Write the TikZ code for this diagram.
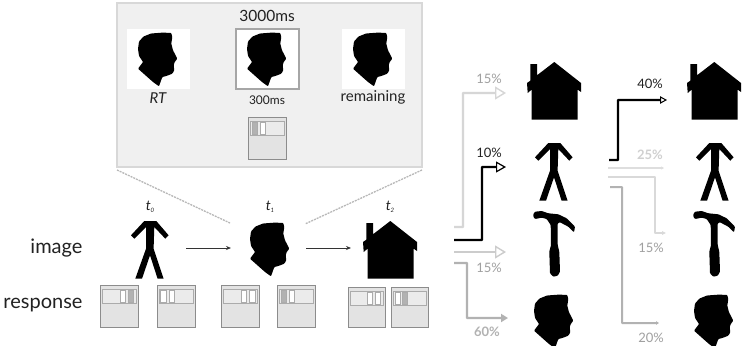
\documentclass[tikz,border=0pt]{standalone}
\usepackage{fontspec}
\setmainfont{Lato}
\usetikzlibrary{arrows.meta}
\definecolor{panelfill}{HTML}{F0F0F0}
\definecolor{panelline}{HTML}{D8D8D8}
\definecolor{txt}{HTML}{222222}
\definecolor{pctlight}{HTML}{A0A0A0}
\definecolor{pctpale}{HTML}{D0D0D0}
\tikzset{
  every node/.style={text=txt},
  iconbox/.style={inner sep=0pt,outer sep=0pt,minimum height=#1},
  respframe/.style={draw=black!45,fill=black!11,line width=0.9pt},
  respbar/.style={draw=black!33,fill=black!8,line width=0.8pt},
  tile/.style={draw=black!33,line width=0.7pt},
  pct/.style={font=\fontsize{13}{15}\selectfont},
  flow/.style={-{Stealth[length=5pt,width=4pt]},line width=0.8pt,draw=black!80},
  link/.style={line width=#1,rounded corners=0.5pt},
  link/.default=2.2pt,
  guide/.style={draw=black!28,line width=1.3pt,dash pattern=on 2pt off 1pt},
  pics/stickman/.style={code={
    \fill[black] (13.3,0)--(25.3,0)--(37.6,14.3)--(34.3,17.7)--(23.3,6)--(22.6,27.7)--(32.6,57.7)--(26.6,57.7)--(19,34.3)--(11,57.7)--(4.3,57.7)--(15,27.7)--(15,6)--(3.3,17.7)--(0,14.3)--cycle;
  }},
  pics/house/.style={code={
    \fill[black] (27.3,0)--(54,21)--(54,30)--(50.6,27.6)--(50.6,57.7)--(4.6,57.7)--(4.6,27.6)--(0.7,31)--(0,21)--(3.3,18.7)--(3.3,2)--(10,2)--(10,13.3)--cycle;
  }},
  pics/head/.style={code={
    \fill[black,rounded corners=0.8pt] (33.3,1)--(34.3,5)--(33.3,11.7)--(35,18.3)--(39.3,26.7)--(36.7,30)--(35.7,33.3)--(36.3,38.3)--(34.3,41.7)--(28.3,44)--(24.3,45)--(21,54.3)--(15,50)--(0,36.7)--(5,30)--(1,24)--(0,17)--(1,9.5)--(5.5,4.5)--(13,1.5)--(25,0.6)--cycle;
  }},
  pics/hammer/.style={code={
    \fill[black,rounded corners=0.8pt] (-0.2,3.3)--(1.5,0.7)--(8.2,0)--(14.8,2.3)--(24.8,3.3)--(33.2,7.3)--(41.5,15.7)--(40.5,21.3)--(34.8,15.7)--(26.5,11.3)--(24.2,12.3)--(24.2,34)--(25.8,40.7)--(26.5,60.7)--(24.2,64.7)--(19.8,65.7)--(16.5,62.3)--(15.8,40.7)--(17.5,34)--(17.2,14)--(13.2,8)--(8.2,6.7)--(1.5,8)--(-0.2,5.7)--cycle;
  }}
}
% A named place holder with the silhouette drawn over it
\newcommand{\icon}[6]{%
  \node[iconbox=#6,minimum width=#5] (#1) at ({#3+#5/2},{#4+#6/2}) {};
  \pic at (#3,#4) {#2};
}
% A response panel: frame, top bar and two small tiles
\newcommand{\respbox}[9]{%
  \node[inner sep=0pt,outer sep=0pt,minimum width=#4,minimum height=#5] (#1) at ({#2+#4/2},{#3+#5/2}) {};
  \draw[respframe] (#2,#3) rectangle ++(#4,#5);
  \draw[respbar] ({#2+2},{#3+4}) rectangle ({#2+#4-2},{#3+18});
  \fill[#7,tile] ({#2+#6},{#3+5}) rectangle ++(5.5,12);
  \fill[#9,tile] ({#2+#8},{#3+5}) rectangle ++(5.5,12);
}
\begin{document}
\begin{tikzpicture}[x=1pt,y=-1pt]
\useasboundingbox (0,0) rectangle (743,345);
\clip (0,0) rectangle (743,345);
\fill[white] (0,0) rectangle (743,345);

% Enlarged trial panel
\draw[fill=panelfill,draw=panelline,line width=2.4pt] (117,3) rectangle (422,167);
\node[font=\fontsize{15.5}{18}\selectfont] (dur) at (267,16) {3000ms};
\fill[white] (127,29) rectangle (190,89);
\draw[fill=white,draw=black!35,line width=1.6pt] (236,29) rectangle (299,89);
\fill[white] (342,29) rectangle (405,89);
\icon{headP}{head}{138}{32}{40}{54}
\icon{headQ}{head}{247}{32}{40}{54}
\icon{headR}{head}{353}{32}{40}{54}
\node[font=\fontsize{15}{17}\itshape\selectfont] (rt) at (158,98.5) {RT};
\node[font=\fontsize{12}{14}\selectfont] (on) at (267,100) {300ms};
\node[font=\fontsize{15}{18}\selectfont] (rem) at (373,97.5) {remaining};
\respbox{respP}{248}{117}{38}{42}{4}{black!30}{12}{white}

% Zoom guides from the panel to the middle image
\coordinate (gl1) at (117,170);
\coordinate (gl2) at (230,223);
\coordinate (gr1) at (422,170);
\coordinate (gr2) at (305,224);
\draw[guide] (gl1) -- (gl2);
\draw[guide] (gr1) -- (gr2);

% Trial timeline
\node[anchor=base east,font=\fontsize{20}{23}\selectfont] (lblI) at (86,253) {image};
\node[anchor=base east,font=\fontsize{20}{23}\selectfont] (lblR) at (86,308) {response};
\node[font=\fontsize{14}{16}\itshape\selectfont] (t0) at (150,207) {t\raisebox{-2pt}{\fontsize{6}{7}\selectfont 0}};
\node[font=\fontsize{14}{16}\itshape\selectfont] (t1) at (270,207) {t\raisebox{-2pt}{\fontsize{6}{7}\selectfont 1}};
\node[font=\fontsize{14}{16}\itshape\selectfont] (t2) at (390,207) {t\raisebox{-2pt}{\fontsize{6}{7}\selectfont 2}};
\icon{figT}{stickman}{131}{221}{37.6}{57.7}
\icon{headT}{head}{250}{222}{39.3}{54}
\icon{houseT}{house}{363}{221}{54}{57.7}
\coordinate (ta1) at (186,248);
\coordinate (ta2) at (231,248);
\coordinate (tb1) at (306,248);
\coordinate (tb2) at (351,248);
\draw[flow] (ta1) -- (ta2);
\draw[flow] (tb1) -- (tb2);

\respbox{r1}{100}{285}{38}{42}{20.3}{white}{28.3}{black!30}
\respbox{r2}{157}{285}{38}{42}{3.7}{white}{12}{white}
\respbox{r3}{221}{285}{38}{42}{20.3}{white}{28.7}{white}
\respbox{r4}{277}{285}{38}{42}{4}{black!30}{12.3}{white}
\respbox{r5}{348}{287}{37}{40}{19.3}{white}{27.3}{white}
\respbox{r6}{391}{287}{37}{40}{4}{white}{11.3}{black!30}

% First set of candidates
\icon{houseA}{house}{527}{62}{54}{57.7}
\icon{figA}{stickman}{535}{143}{37.6}{57.7}
\icon{hammerA}{hammer}{533.5}{211}{41}{65.3}
\icon{headA}{head}{534}{294}{39.3}{54}

% Second set of candidates
\icon{houseB}{house}{687}{62}{54}{57.7}
\icon{figB}{stickman}{696}{143}{37.6}{57.7}
\icon{hammerB}{hammer}{693.5}{211}{41}{65.3}
\icon{headB}{head}{694}{294}{39.3}{54}

% Transition arrows towards the first set
\coordinate (s1) at (454,227);
\coordinate (e1) at (506,93);
\draw[link,draw=black!16,-{Triangle[open,fill=white,length=11pt,width=13pt,line width=1.4pt]}] (s1) -- ++(9,0) |- (e1);
\node[pct,text=pctlight] (p1) at (489,79) {15\%};
\coordinate (s2) at (454,240);
\coordinate (e2) at (506,167);
\draw[link,draw=black,-{Triangle[open,fill=white,length=10pt,width=11pt,line width=1.2pt]}] (s2) -- ++(28,0) |- (e2);
\node[pct] (p2) at (489,153) {10\%};
\coordinate (s3) at (454,252);
\coordinate (e3) at (506,252);
\draw[link,draw=black!20,-{Triangle[open,fill=white,length=11pt,width=13pt,line width=1.4pt]}] (s3) -- (e3);
\node[pct,text=pctlight] (p3) at (489,268) {15\%};
\coordinate (s4) at (454,263);
\coordinate (e4) at (508,318);
\draw[link=2.4pt,draw=black!30,-{Triangle[length=7pt,width=8pt]}] (s4) -- ++(13,0) |- (e4);
\node[text=black!30,font=\fontsize{13}{15}\bfseries\selectfont] (p4) at (487,332) {60\%};

% Transition arrows towards the second set
\coordinate (s5) at (609,160);
\coordinate (e5) at (667,100);
\draw[link,draw=black,-{Triangle[open,fill=white,length=7pt,width=7.5pt,line width=1pt]}] (s5) -- ++(9,0) |- (e5);
\node[pct] (p5) at (650,84) {40\%};
\coordinate (s6) at (608,168);
\coordinate (e6) at (664,168);
\draw[link=1.5pt,draw=black!13,-{Triangle[length=3pt,width=3pt]}] (s6) -- (e6);
\node[text=pctpale,font=\fontsize{13}{15}\bfseries\selectfont] (p6) at (650,155) {25\%};
\coordinate (s7) at (608,177);
\coordinate (e7) at (666,233);
\draw[link=1.8pt,draw=black!15,-{Triangle[length=4pt,width=3.5pt]}] (s7) -- ++(47,0) |- (e7);
\node[pct,text=pctlight] (p7) at (651,248) {15\%};
\coordinate (s8) at (610,187);
\coordinate (e8) at (659,323);
\draw[link=2pt,draw=black!30,-{Triangle[length=3pt,width=3.5pt]}] (s8) -- ++(12,0) |- (e8);
\node[pct,text=pctlight] (p8) at (651,338) {20\%};
\end{tikzpicture}
\end{document}
